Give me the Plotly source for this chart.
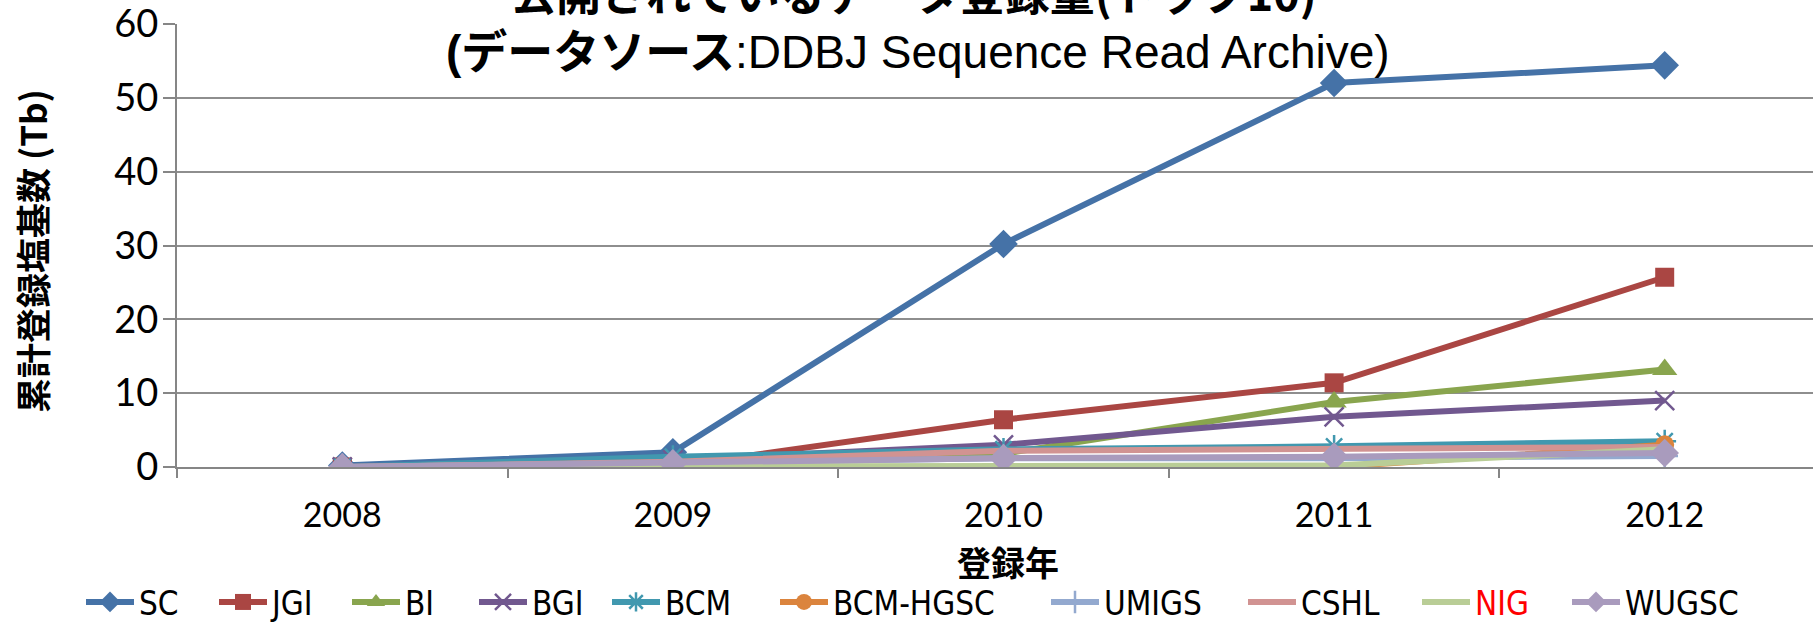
import plotly.graph_objects as go

years = ["2008", "2009", "2010", "2011", "2012"]

sc = [0.2, 2.0, 30.2, 52.0, 54.4]
jgi = [0.0, 0.1, 6.4, 11.4, 25.7]
bi = [0.0, 0.2, 1.8, 8.8, 13.2]
bgi = [0.0, 1.0, 3.0, 6.8, 9.0]
bcm = [0.0, 1.4, 2.4, 2.8, 3.5]
bcm_hgsc = [0.0, 0.0, 0.0, 0.0, 3.0]
umigs = [0.0, 0.5, 1.2, 1.2, 1.5]
cshl = [0.0, 0.7, 2.2, 2.5, 2.7]
nig = [0.0, 0.1, 0.2, 0.2, 2.4]
wugsc = [0.0, 0.5, 1.2, 1.4, 1.9]

y_ticks = [0, 10, 20, 30, 40, 50, 60]

title1 = "公開されているデータ登録量(トップ10)"
title2 = "<b>(データソース</b>:DDBJ Sequence Read Archive)"
x_title = "登録年"
y_title = "累計登録塩基数 (Tb)"

series = [
    ("SC", sc, "#4572A7", "diamond", 22, False),
    ("JGI", jgi, "#AA4643", "square", 19, False),
    ("BI", bi, "#89A54E", "triangle-up", 22, False),
    ("BGI", bgi, "#71588F", "x-thin", 19, True),
    ("BCM", bcm, "#4198AF", "asterisk", 19, True),
    ("BCM-HGSC", bcm_hgsc, "#DB843D", "circle", 19, False),
    ("UMIGS", umigs, "#93A9CF", "cross-thin", 19, True),
    ("CSHL", cshl, "#D19392", None, 0, False),
    ("<span style='color:#FF0000'>NIG</span>", nig, "#B9CD96", None, 0, False),
    ("WUGSC", wugsc, "#A99BBD", "diamond", 22, False),
]

# legend entry left edges (pixels in the 1813-wide picture)
legend_x = [81, 214, 347, 474, 607, 775, 1046, 1243, 1417, 1567]

W, H = 1813, 622
L, R, T, B = 177, 0, 24, 155
PW = W - L - R
PH = H - T - B


def px(x):
    return (x - L) / PW


def py(y):
    return (H - B - y) / PH


fig = go.Figure()
legend_layouts = {}
for i, (name, vals, color, sym, size, thin) in enumerate(series):
    lname = "legend" if i == 0 else f"legend{i + 1}"
    if sym is None:
        tr = go.Scatter(x=years, y=vals, name=name, mode="lines",
                        line=dict(color=color, width=6), legend=lname)
    else:
        mk = dict(symbol=sym, size=size, color=color)
        if thin:
            mk["line"] = dict(color=color, width=2.5)
        else:
            mk["line"] = dict(width=0)
        tr = go.Scatter(x=years, y=vals, name=name, mode="lines+markers",
                        line=dict(color=color, width=6), marker=mk, legend=lname)
    fig.add_trace(tr)
    legend_layouts[lname] = dict(
        orientation="h", x=px(legend_x[i]), y=py(602), xanchor="left", yanchor="middle",
        font=dict(family="DejaVu Sans Condensed, Liberation Sans Narrow, Liberation Sans",
                  size=33, color="black"),
        bgcolor="rgba(0,0,0,0)", itemwidth=48,
    )

fig.update_layout(
    width=W, height=H,
    margin=dict(l=L, r=R, t=T, b=B, autoexpand=False),
    paper_bgcolor="white", plot_bgcolor="white",
    font=dict(family="Lato, Noto Sans CJK JP", color="black"),
    showlegend=True,
    **legend_layouts,
)
fig.update_xaxes(type="category", range=[-0.5, -0.5 + PW / 330.6],
                 tickson="boundaries", ticks="outside", ticklen=9, tickcolor="#868686", tickwidth=2,
                 showline=True, linecolor="#868686", linewidth=2, showgrid=False, zeroline=False,
                 tickfont=dict(family="Lato", size=34), ticklabelstandoff=17)
fig.update_yaxes(range=[0, 60], tickvals=y_ticks, ticks="outside", ticklen=12,
                 tickcolor="#868686", tickwidth=2, ticklabeloverflow="allow",
                 ticklabelstandoff=-3,
                 showline=True, linecolor="#868686", linewidth=2,
                 showgrid=True, gridcolor="#8e8e8e", gridwidth=2, zeroline=False,
                 tickfont=dict(family="Lato", size=38))

fig.add_annotation(text="<b>" + title1 + "</b>", x=px(914), y=py(-8), xref="paper", yref="paper",
                   showarrow=False, xanchor="center", yanchor="middle",
                   font=dict(family="Noto Sans CJK JP", size=45, color="black"))
fig.add_annotation(text=title2, x=px(918), y=py(52), xref="paper", yref="paper",
                   showarrow=False, xanchor="center", yanchor="middle",
                   font=dict(family="Liberation Sans, Noto Sans CJK JP", size=46, color="black"))
fig.add_annotation(text="<b>" + x_title + "</b>", x=px(1008), y=py(561), xref="paper", yref="paper",
                   showarrow=False, xanchor="center", yanchor="middle", borderpad=0,
                   font=dict(family="Noto Sans CJK JP", size=34, color="black"))
fig.add_annotation(text="<b>" + y_title + "</b>", x=px(32), y=py(251), xref="paper", yref="paper",
                   showarrow=False, xanchor="center", yanchor="middle", textangle=-90,
                   font=dict(family="Noto Sans CJK JP", size=35, color="black"))

fig.write_html("out.html", config={"displayModeBar": False},
               post_script="document.body.style.margin='0';document.body.style.overflow='hidden';")
